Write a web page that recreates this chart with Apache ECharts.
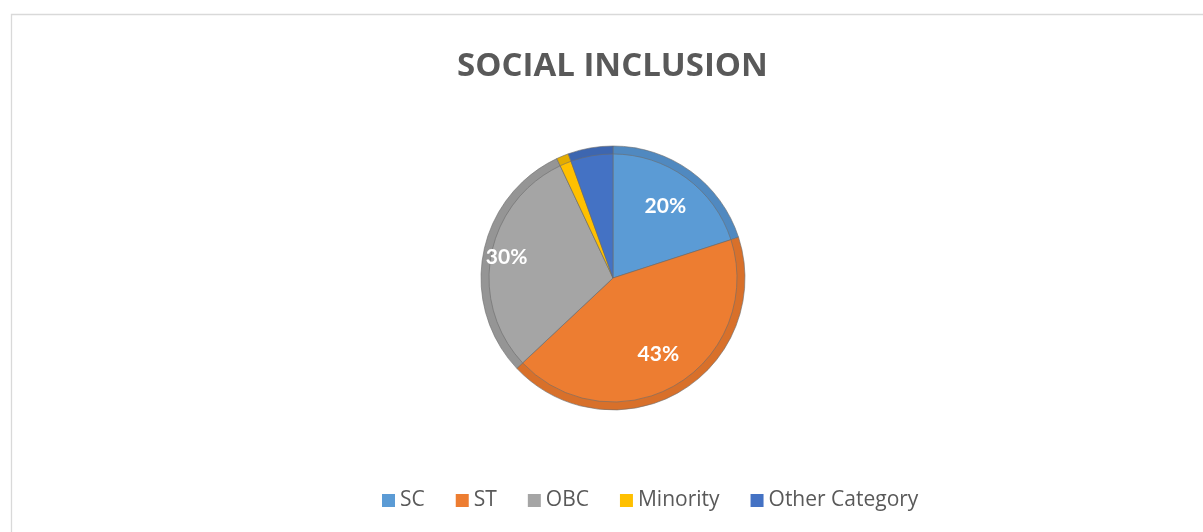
<!DOCTYPE html>
<html>
<head>
<meta charset="utf-8">
<script src="https://cdn.jsdelivr.net/npm/echarts@6/dist/echarts.min.js"></script>
<style>
  html, body { margin: 0; padding: 0; background: #fff; }
  #chart { width: 1203px; height: 532px; }
</style>
</head>
<body>
<div id="chart"></div>
<script>
var categories = ['SC', 'ST', 'OBC', 'Minority', 'Other Category'];
var shares = [20, 43, 30, 1.5, 5.5];
// fill and bevel-edge shades, Excel office palette
var fillColors = ['#5b9bd5', '#ed7d31', '#a5a5a5', '#ffc000', '#4472c4'];
var edgeColors = ['#5089c0', '#d8702a', '#959595', '#e3ac00', '#3d66b0'];

var chart = echarts.init(document.getElementById('chart'));

function build(colors) {
  return categories.map(function (name, i) {
    return { name: name, value: shares[i], itemStyle: { color: colors[i] } };
  });
}

var labelData = build(fillColors).map(function (d) {
  var o = { name: d.name, value: d.value };
  if (d.name === 'OBC') o.label = { offset: [-19, -4] };
  return o;
});

var option = {
  backgroundColor: '#fff',
  animation: false,
  graphic: [{
    type: 'rect',
    left: 9, top: 12,
    shape: { width: 1200, height: 530 },
    style: { fill: 'none', stroke: '#d9d9d9', lineWidth: 1.3 },
    silent: true
  }],
  title: {
    text: 'SOCIAL INCLUSION',
    left: 452,
    top: 45,
    textStyle: {
      fontFamily: 'Open Sans',
      fontWeight: 'bold',
      fontSize: 33,
      color: '#595959'
    }
  },
  legend: {
    top: 485,
    left: 377,
    icon: 'rect',
    itemWidth: 13,
    itemHeight: 13,
    itemGap: 31,
    data: categories,
    itemStyle: { borderWidth: 0 },
    textStyle: {
      fontFamily: 'Open Sans',
      fontSize: 21,
      color: '#595959'
    }
  },
  series: [
    {
      name: 'fill',
      type: 'pie',
      z: 2,
      center: [613, 278],
      radius: [0, 124],
      startAngle: 90,
      clockwise: true,
      silent: true,
      label: { show: false },
      labelLine: { show: false },
      itemStyle: { borderColor: '#6b6b6b', borderWidth: 0.6 },
      data: build(fillColors)
    },
    {
      name: 'edge',
      type: 'pie',
      z: 1,
      center: [613, 278],
      radius: [0, 132],
      startAngle: 90,
      clockwise: true,
      silent: true,
      label: { show: false },
      labelLine: { show: false },
      itemStyle: { borderColor: '#6b6b6b', borderWidth: 0.6 },
      data: build(edgeColors)
    },
    {
      name: 'labels',
      type: 'pie',
      z: 3,
      center: [613, 278],
      radius: [40, 132],
      startAngle: 90,
      clockwise: true,
      silent: true,
      percentPrecision: 0,
      itemStyle: { color: 'rgba(0,0,0,0)' },
      label: {
        show: true,
        position: 'inside',
        fontFamily: 'Lato',
        fontWeight: 'bold',
        fontSize: 21,
        color: '#fff',
        formatter: function (p) { return p.percent >= 10 ? p.percent + '%' : ''; }
      },
      labelLine: { show: false },
      data: labelData
    }
  ]
};

chart.setOption(option);
</script>
</body>
</html>
